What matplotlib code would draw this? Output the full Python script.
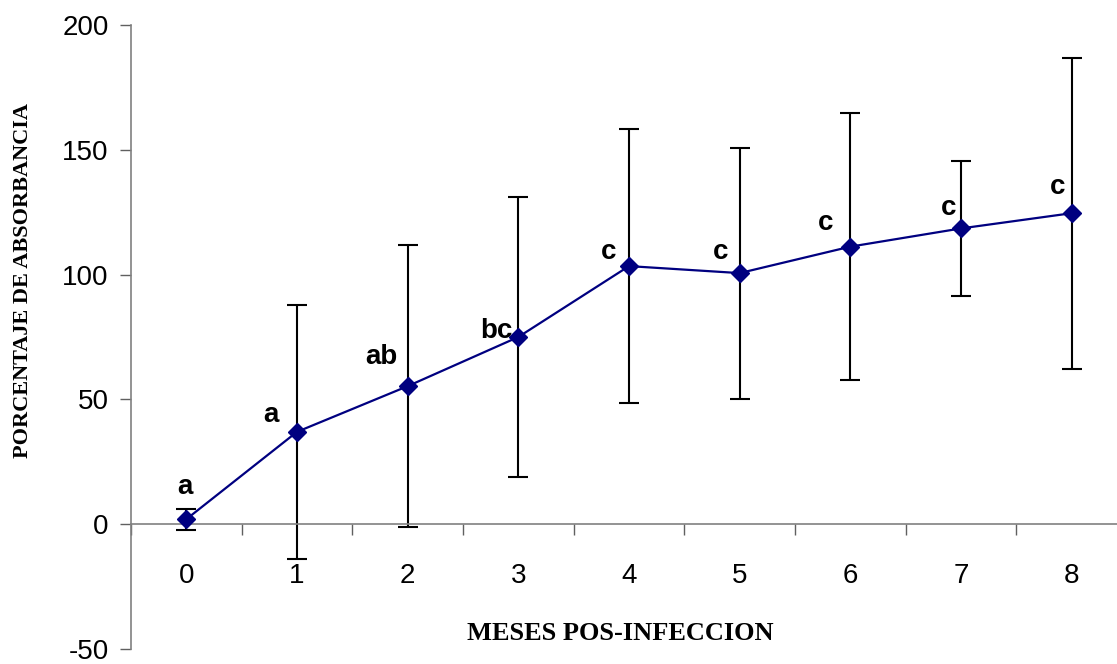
import numpy as np
from matplotlib import pyplot as plt
from matplotlib.ticker import FixedLocator

plt.rcParams['axes.unicode_minus'] = False

# months post infection, mean absorbance (%) and error bar half-width
meses = [0, 1, 2, 3, 4, 5, 6, 7, 8]
media = [2, 37, 55.3, 75, 103.4, 100.6, 111.2, 118.5, 124.6]
error = [4.2, 51, 56.5, 56, 55, 50.3, 53.4, 27, 62.3]
letras = ['a', 'a', 'ab', 'bc', 'c', 'c', 'c', 'c', 'c']
# where each letter sits relative to its point (points)
desplaz = [(-1, 23), (-19, 12), (-19, 21), (-16, 4), (-15, 10),
           (-14, 15), (-18, 17), (-9, 15), (-10, 19)]

sans = ['Liberation Sans Narrow', 'Liberation Sans', 'DejaVu Sans']
serif = ['Liberation Serif', 'DejaVu Serif']

fig = plt.figure(figsize=(11.17, 6.64), dpi=100)
ax = fig.add_axes([131 / 1117, 15 / 664, (1127 - 131) / 1117, 624 / 664])

ax.errorbar(meses, media, yerr=error, fmt='none', ecolor='black',
            elinewidth=1.5, capsize=7.5, capthick=1.5, zorder=2)
ax.plot(meses, media, color='#000080', lw=1.6, marker='D', ms=9,
        mfc='#000080', mec='#000080', zorder=3)

# significance letters
for x, y, t, d in zip(meses, media, letras, desplaz):
    ax.annotate(t, (x, y), xytext=d, textcoords='offset points',
                ha='center', va='center', fontsize=20, fontweight='bold',
                family=sans)

ax.set_xlim(-0.5, 8.5)
ax.set_ylim(-50, 200)

for s in ('top', 'right'):
    ax.spines[s].set_visible(False)
ax.spines['bottom'].set_position(('data', 0))
for s in ('left', 'bottom'):
    ax.spines[s].set_color('#808080')
    ax.spines[s].set_linewidth(1.2)

ax.set_yticks([-50, 0, 50, 100, 150, 200])
ax.tick_params(axis='y', direction='out', length=8, width=1, color='#606060',
               pad=8, labelsize=20)
ax.set_xticks(meses)
ax.xaxis.set_minor_locator(FixedLocator(np.arange(-0.5, 8.6, 1)))
ax.tick_params(axis='x', which='major', length=0, pad=28, labelsize=20)
ax.tick_params(axis='x', which='minor', direction='out', length=8, width=1,
               color='#606060')
for lab in ax.get_xticklabels() + ax.get_yticklabels():
    lab.set_family(sans)

fig.text(620 / 1117, 1 - 634 / 664, 'MESES POS-INFECCION', ha='center',
         va='center', fontsize=19, fontweight='bold', family=serif)
fig.text(23 / 1117, 1 - 281 / 664, 'PORCENTAJE DE ABSORBANCIA', ha='center',
         va='center', rotation=90, fontsize=16, fontweight='bold', family=serif)

fig.savefig('out.png', dpi=100)
